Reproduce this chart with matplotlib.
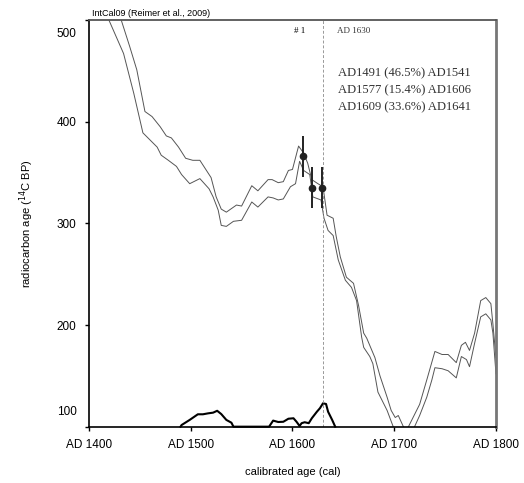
import matplotlib
matplotlib.use("Agg")
import matplotlib.pyplot as plt
import matplotlib.transforms as mtransforms

# IntCal09 1-sigma envelope (cal AD -> 14C BP)
upper_year = [1400, 1420, 1432, 1440, 1447, 1455, 1462, 1470, 1476, 1481, 1488, 1495, 1502, 1509,
              1520, 1525, 1530, 1535, 1545, 1550, 1560, 1566, 1576, 1580, 1586, 1591, 1596, 1600,
              1606, 1611, 1615, 1619, 1625, 1630, 1634, 1640, 1643, 1647, 1653, 1660, 1665, 1670,
              1673, 1681, 1686, 1693, 1697, 1701, 1704, 1709, 1711, 1714, 1718, 1725, 1732, 1740,
              1747, 1753, 1761, 1766, 1770, 1774, 1779, 1785, 1790, 1795, 1797, 1800]
upper_bp = [570, 535, 499, 474, 451, 410, 405, 395, 386, 384, 375, 364, 362, 362,
            345, 326, 314, 311, 318, 317, 337, 332, 343, 343, 340, 341, 352, 353,
            376, 369, 359, 343, 339, 336, 308, 305, 287, 267, 247, 241, 219, 192,
            187, 168, 150, 129, 116, 109, 111, 100, 97, 100, 108, 122, 146, 174,
            171, 171, 163, 180, 183, 175, 192, 224, 227, 221, 201, 168]

lower_year = [1400, 1410, 1420, 1434, 1444, 1453, 1460, 1467, 1471, 1478, 1486, 1491, 1499, 1509,
              1518, 1522, 1527, 1530, 1535, 1542, 1550, 1560, 1566, 1576, 1581, 1586, 1591, 1598,
              1603, 1607, 1611, 1617, 1620, 1628, 1631, 1635, 1640, 1645, 1652, 1658, 1663, 1668,
              1670, 1676, 1679, 1684, 1693, 1699, 1705, 1714, 1720, 1725, 1732, 1737, 1740, 1747,
              1753, 1761, 1766, 1771, 1774, 1779, 1785, 1790, 1795, 1797, 1800]
lower_bp = [545, 522, 499, 467, 428, 389, 382, 375, 367, 362, 356, 348, 339, 344,
            334, 326, 313, 298, 297, 302, 303, 321, 316, 326, 325, 323, 324, 336,
            339, 361, 352, 348, 326, 323, 305, 293, 288, 264, 244, 237, 224, 188,
            178, 169, 162, 134, 116, 100, 92, 92, 100, 111, 129, 146, 158, 157,
            155, 148, 169, 166, 159, 182, 208, 211, 205, 192, 152]

# calibrated probability (relative to the peak)
prob_year = [1490, 1491, 1499, 1507, 1512, 1517, 1522, 1526, 1530, 1535, 1540, 1542,
             1577, 1581, 1586, 1591, 1596, 1601, 1604, 1607, 1609, 1612, 1616, 1619,
             1624, 1627, 1630, 1633, 1635, 1639, 1642]
prob_rel = [0, 0.07, 0.29, 0.53, 0.53, 0.57, 0.60, 0.68, 0.54, 0.29, 0.17, 0,
            0, 0.26, 0.20, 0.21, 0.34, 0.36, 0.21, 0.03, 0.15, 0.19, 0.15, 0.36,
            0.64, 0.79, 1.0, 0.97, 0.64, 0.29, 0]

# measured samples
ring_year = [1610, 1619, 1629]
ring_bp = [366, 335, 335]
ring_err = [20, 20, 20]

outer_ring = 1630
ranges = ["AD1491 (46.5%) AD1541",
          "AD1577 (15.4%) AD1606",
          "AD1609 (33.6%) AD1641"]

x_ticks = [1400, 1500, 1600, 1700, 1800]
y_ticks = [100, 200, 300, 400, 500]

SANS = ["Liberation Sans", "DejaVu Sans"]
SERIF = ["Liberation Serif", "DejaVu Serif"]

fig = plt.figure(figsize=(5.24, 4.83), dpi=100)
ax = fig.add_axes([0.1698, 0.1166, 0.7767, 0.842])

ax.plot(upper_year, upper_bp, color="#555555", lw=0.7)
ax.plot(lower_year, lower_bp, color="#555555", lw=0.7)

base = y_ticks[0]
ax.plot(prob_year, [base + 23 * p for p in prob_rel], color="black", lw=1.5, clip_on=False,
        solid_joinstyle="round")

ax.errorbar(ring_year, ring_bp, yerr=ring_err, fmt="o", color="#222222", ms=4.5,
            elinewidth=1.4, capsize=0, zorder=5)

ax.axvline(outer_ring, color="#999999", lw=0.7, ls=(0, (3, 2)))

ax.set_xlim(1400, 1800)
ax.set_ylim(100, 500)
ax.set_xticks(x_ticks)
ax.set_xticklabels(["AD %d" % y for y in x_ticks], family=SANS, fontsize=8.5)
ax.set_yticks(y_ticks)
ax.set_yticklabels([str(v) for v in y_ticks], family=SANS, fontsize=8.5)
ax.tick_params(direction="out", length=3, width=1, color="black")
ax.tick_params(axis="x", pad=6)
ax.tick_params(axis="y", pad=6)

# nudge the end labels inward like the original
yt = ax.yaxis.get_major_ticks()
yt[0].label1.set_transform(yt[0].label1.get_transform() +
                           mtransforms.ScaledTranslation(0, 12 / 72, fig.dpi_scale_trans))
yt[-1].label1.set_transform(yt[-1].label1.get_transform() +
                            mtransforms.ScaledTranslation(0, -9 / 72, fig.dpi_scale_trans))

for s in ["left", "bottom"]:
    ax.spines[s].set_color("black")
    ax.spines[s].set_linewidth(1.2)
ax.spines["top"].set_color("#555555")
ax.spines["top"].set_linewidth(1.3)
ax.spines["right"].set_color("#777777")
ax.spines["right"].set_linewidth(2)

ax.set_xlabel("calibrated age (cal)", family=SANS, fontsize=8)
ax.xaxis.set_label_coords(0.5, -0.1)
ax.set_ylabel("radiocarbon age ($^{14}$C BP)", family=SANS, fontsize=8)
ax.yaxis.set_label_coords(-0.13, 0.5)

ax.text(0.007, 1.017, "IntCal09 (Reimer et al., 2009)", transform=ax.transAxes,
        fontsize=6.5, family=SANS, va="center", ha="left")
ax.text(0.531, 0.973, "# 1", transform=ax.transAxes, fontsize=6.5, family=SERIF,
        va="center", ha="right")
ax.text(0.609, 0.973, "AD %d" % outer_ring, transform=ax.transAxes, fontsize=6.5,
        family=SERIF, va="center", ha="left", color="#333333")
for i, r in enumerate(ranges):
    ax.text(0.612, 0.870 - 0.042 * i, r, transform=ax.transAxes, fontsize=9.1,
            family=SERIF, va="center", ha="left", color="#333333")

fig.savefig("out.png", dpi=100)
